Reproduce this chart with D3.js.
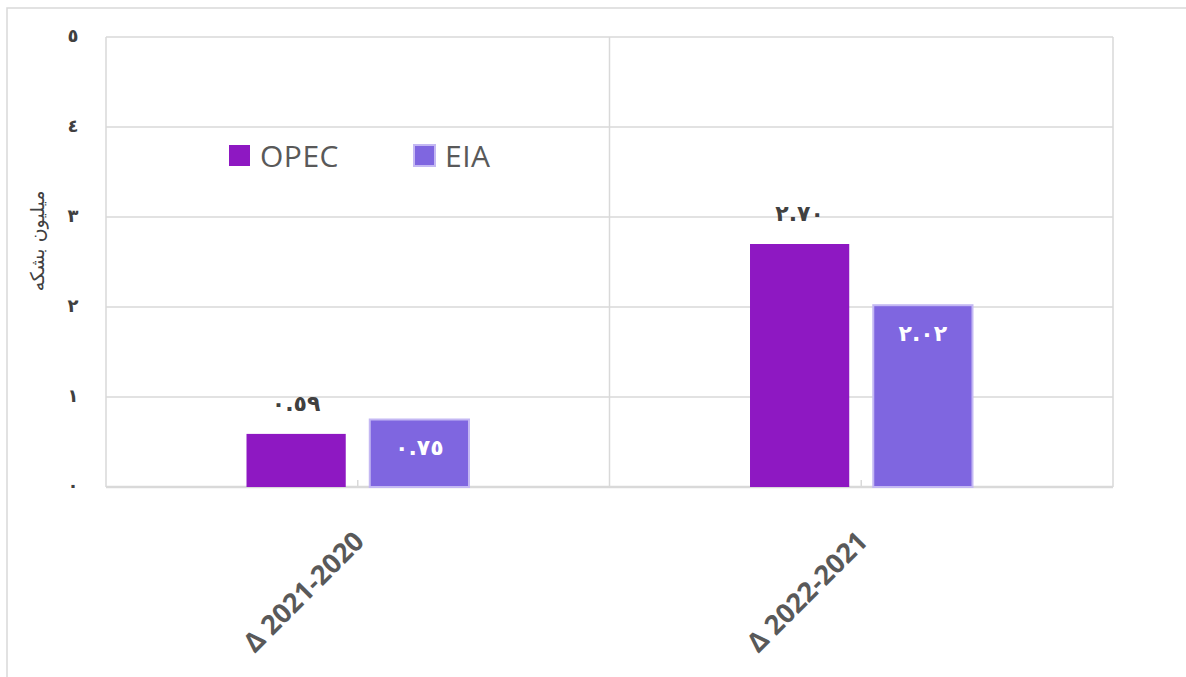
<!DOCTYPE html>
<html>
<head>
<meta charset="utf-8">
<script src="https://d3js.org/d3.v7.min.js"></script>
<style>
  body { margin: 0; background: #fff; }
  svg { display: block; }
</style>
</head>
<body>
<svg id="chart" width="1186" height="677"></svg>
<script>
// data
var categories = ["\u0394 2021-2020", "\u0394 2022-2021"];
var seriesNames = ["OPEC", "EIA"];
var opecValues = [0.59, 2.70];
var eiaValues = [0.75, 2.02];
var yTicks = [0, 1, 2, 3, 4, 5];
var yTitle = "میلیون بشکه";

var colors = { OPEC: "#8e18c2", EIA: "#7f66e0" };

// arabic-indic digits for the numbers
var toArabic = function(s) {
  return String(s).replace(/[0-9]/g, function(c) { return String.fromCharCode(0x0660 + (+c)); });
};

var svg = d3.select("#chart");
var plot = { left: 106, right: 1113, top: 37, bottom: 487 };

// outer chart frame (cropped by the window)
svg.append("rect")
  .attr("x", 7).attr("y", 8)
  .attr("width", 1200).attr("height", 700)
  .attr("fill", "none")
  .attr("stroke", "#d9d9d9")
  .attr("stroke-width", 1.5);

var x = d3.scaleBand()
  .domain(categories)
  .range([plot.left, plot.right]);

var xs = d3.scaleBand()
  .domain(seriesNames)
  .range([0, x.bandwidth()])
  .paddingInner(0.195)
  .paddingOuter(1.14);

var y = d3.scaleLinear()
  .domain([0, 5])
  .range([plot.bottom, plot.top]);

// gridlines
svg.append("g")
  .selectAll("line")
  .data(yTicks)
  .enter().append("line")
    .attr("x1", plot.left).attr("x2", plot.right)
    .attr("y1", function(d) { return y(d); })
    .attr("y2", function(d) { return y(d); })
    .attr("stroke", "#d9d9d9")
    .attr("stroke-width", function(d) { return d === 0 ? 2.5 : 1.5; });

// plot border + category dividers
svg.append("g")
  .selectAll("line")
  .data([plot.left, x(categories[1]), plot.right])
  .enter().append("line")
    .attr("x1", function(d) { return d; }).attr("x2", function(d) { return d; })
    .attr("y1", plot.top).attr("y2", plot.bottom)
    .attr("stroke", "#d9d9d9")
    .attr("stroke-width", 1.5);

// small ticks at category centres
svg.append("g")
  .selectAll("line")
  .data(categories)
  .enter().append("line")
    .attr("x1", function(d) { return x(d) + x.bandwidth() / 2; })
    .attr("x2", function(d) { return x(d) + x.bandwidth() / 2; })
    .attr("y1", plot.bottom - 7).attr("y2", plot.bottom)
    .attr("stroke", "#d9d9d9")
    .attr("stroke-width", 1.5);

// y tick labels
svg.append("g")
  .selectAll("text")
  .data(yTicks)
  .enter().append("text")
    .attr("x", 73)
    .attr("y", function(d) { return y(d); })
    .attr("dy", "0.3em")
    .attr("text-anchor", "middle")
    .attr("font-family", "DejaVu Sans")
    .attr("font-weight", "bold")
    .attr("font-size", "18px")
    .attr("fill", "#404040")
    .text(function(d) { return toArabic(d); });

// y axis title
svg.append("text")
  .attr("transform", "translate(37," + 241 + ") rotate(-90)")
  .attr("text-anchor", "middle")
  .attr("dy", "0.35em")
  .attr("font-family", "DejaVu Sans")
  .attr("font-size", "19px")
  .attr("fill", "#404040")
  .attr("direction", "rtl")
  .text(yTitle);

// bars
var rows = categories.map(function(c, i) {
  return { cat: c, OPEC: opecValues[i], EIA: eiaValues[i] };
});

var groups = svg.append("g")
  .selectAll("g")
  .data(rows)
  .enter().append("g")
    .attr("transform", function(d) { return "translate(" + x(d.cat) + ",0)"; });

groups.selectAll("rect")
  .data(function(d) { return seriesNames.map(function(k) { return { key: k, value: d[k] }; }); })
  .enter().append("rect")
    .attr("x", function(d) { return xs(d.key); })
    .attr("y", function(d) { return y(d.value); })
    .attr("width", xs.bandwidth())
    .attr("height", function(d) { return y(0) - y(d.value); })
    .attr("fill", function(d) { return colors[d.key]; })
    .attr("stroke", function(d) { return d.key === "EIA" ? "#c4b8f3" : "none"; })
    .attr("stroke-width", 2);

// value labels
groups.selectAll("text")
  .data(function(d) { return seriesNames.map(function(k) { return { key: k, value: d[k] }; }); })
  .enter().append("text")
    .attr("x", function(d) { return xs(d.key) + xs.bandwidth() / 2; })
    .attr("y", function(d) { return d.key === "OPEC" ? y(d.value) - 31 : y(d.value) + 28; })
    .attr("dy", "0.35em")
    .attr("text-anchor", "middle")
    .attr("direction", "ltr")
    .attr("font-family", "DejaVu Sans")
    .attr("font-weight", "bold")
    .attr("font-size", "22px")
    .attr("letter-spacing", "2px")
    .attr("fill", function(d) { return d.key === "OPEC" ? "#404040" : "#ffffff"; })
    .text(function(d) { return toArabic(d.value.toFixed(2)); });

// x labels, rotated
svg.append("g")
  .selectAll("text")
  .data(categories)
  .enter().append("text")
    .attr("transform", function(d) {
      return "translate(" + (x(d) + x.bandwidth() / 2 + 8) + "," + (plot.bottom + 56) + ") rotate(-45)";
    })
    .attr("text-anchor", "end")
    .attr("font-family", "Open Sans")
    .attr("font-weight", "bold")
    .attr("font-size", "27px")
    .attr("fill", "#595959")
    .text(function(d) { return d; });

// legend
var legend = svg.append("g")
  .selectAll("g")
  .data(seriesNames)
  .enter().append("g")
    .attr("transform", function(d, i) { return "translate(" + (229 + i * 185) + ",145)"; });

legend.append("rect")
  .attr("width", 21).attr("height", 21)
  .attr("fill", function(d) { return colors[d]; })
  .attr("stroke", function(d) { return d === "EIA" ? "#c4b8f3" : "none"; })
  .attr("stroke-width", 2);

legend.append("text")
  .attr("x", 31)
  .attr("y", 22)
  .attr("font-family", "Open Sans")
  .attr("font-size", "30px")
  .attr("letter-spacing", "0.5px")
  .attr("fill", "#595959")
  .text(function(d) { return d; });
</script>
</body>
</html>
